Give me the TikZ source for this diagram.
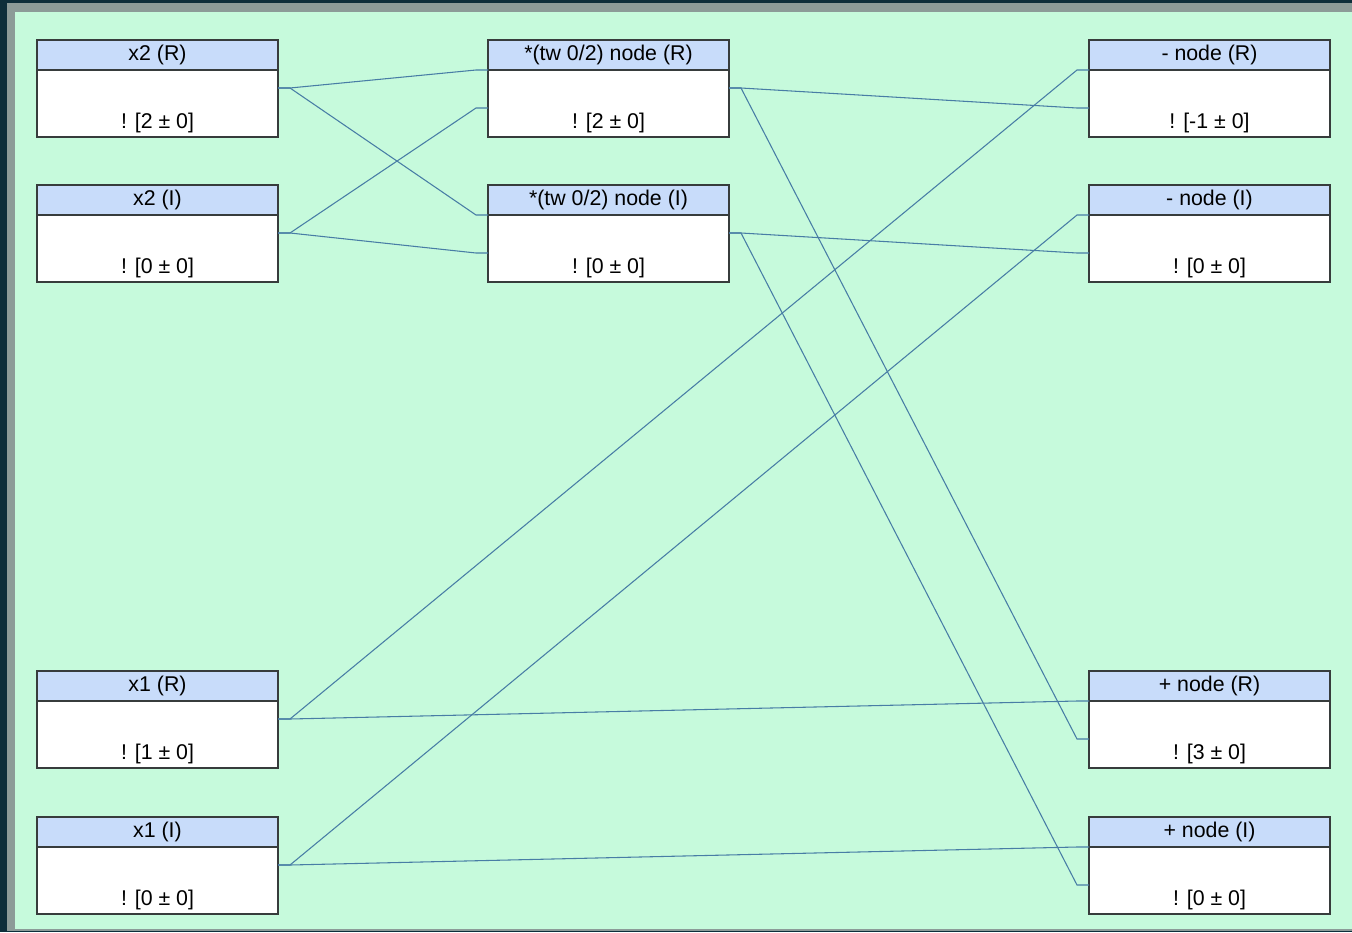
\documentclass[tikz,border=0pt]{standalone}
\usepackage{fontspec}
\setmainfont{Liberation Sans}
\usepackage{xcolor}
\definecolor{framedark}{RGB}{13,46,58}
\definecolor{framegray}{RGB}{140,155,152}
\definecolor{mint}{RGB}{198,250,220}
\definecolor{headblue}{RGB}{200,220,250}
\definecolor{boxline}{RGB}{55,60,60}
\definecolor{wireblue}{RGB}{72,125,165}
\newcommand{\FL}{\fontsize{16}{19}\selectfont}
% one operator box: name, x, y, title, value
\newcommand{\opbox}[5]{%
  \node[head] (#1-h) at (#2,#3) {#4};
  \node[body,anchor=north] (#1) at (#1-h.south) {};
  \node[texto] (#1-v) at ([yshift=10.5pt]#1.south) {#5};
  \coordinate (#1-o) at ([yshift=-13.5pt]#1.north east);
  \coordinate (#1-a) at (#1.north west);
  \coordinate (#1-b) at ([yshift=-28.5pt]#1.north west);
}
\newcommand{\wire}[2]{\draw[line] (#1) -- ++(12,0) -- ([xshift=-9pt]#2) -- (#2);}

\begin{document}
\begin{tikzpicture}[x=0.75pt,y=-0.75pt]
\tikzstyle{head}=[draw=boxline,fill=headblue,line width=1pt,outer sep=0pt,anchor=north west,minimum width=180.75pt,minimum height=22.5pt,inner sep=0pt,font=\FL]
\tikzstyle{body}=[draw=boxline,fill=white,line width=1pt,outer sep=0pt,minimum width=180.75pt,minimum height=50.25pt,inner sep=0pt]
\tikzstyle{texto}=[draw=none,fill=none,black,inner sep=0pt,font=\FL]
\tikzstyle{line}=[wireblue,line width=0.8pt]

\useasboundingbox (0,0) rectangle (1352,932);
\fill[framedark] (0,0) rectangle (1352,932);
\fill[framegray] (7,3) rectangle (1352,931);
\fill[mint] (15,12) rectangle (1352,929);

% inputs
\opbox{x2r}{37}{40}{x2 (R)}{! [2 ± 0]}
\opbox{x2i}{37}{185}{x2 (I)}{! [0 ± 0]}
\opbox{x1r}{37}{671}{x1 (R)}{! [1 ± 0]}
\opbox{x1i}{37}{817}{x1 (I)}{! [0 ± 0]}

% twiddle
\opbox{twr}{488}{40}{*(tw 0/2) node (R)}{! [2 ± 0]}
\opbox{twi}{488}{185}{*(tw 0/2) node (I)}{! [0 ± 0]}

% outputs
\opbox{subr}{1089}{40}{- node (R)}{! [-1 ± 0]}
\opbox{subi}{1089}{185}{- node (I)}{! [0 ± 0]}
\opbox{addr}{1089}{671}{+ node (R)}{! [3 ± 0]}
\opbox{addi}{1089}{817}{+ node (I)}{! [0 ± 0]}

\wire{x2r-o}{twr-a}
\wire{x2r-o}{twi-a}
\wire{x2i-o}{twr-b}
\wire{x2i-o}{twi-b}

\wire{twr-o}{subr-b}
\wire{twr-o}{addr-b}
\wire{twi-o}{subi-b}
\wire{twi-o}{addi-b}

\wire{x1r-o}{subr-a}
\wire{x1r-o}{addr-a}
\wire{x1i-o}{subi-a}
\wire{x1i-o}{addi-a}
\end{tikzpicture}
\end{document}
